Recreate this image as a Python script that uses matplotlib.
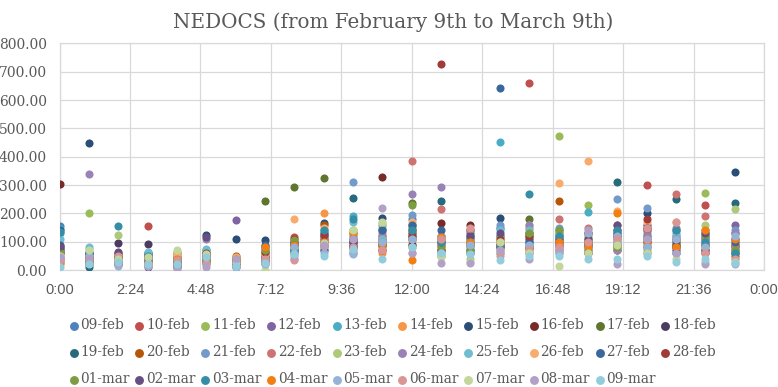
import matplotlib
matplotlib.use("Agg")
import matplotlib.pyplot as plt
import matplotlib.ticker as mticker
import numpy as np

# ── Data (NEDOCS per hour of day, one series per date) ───────────────────────
HOURS = list(range(24))

DATES = ["09-feb", "10-feb", "11-feb", "12-feb", "13-feb", "14-feb", "15-feb",
         "16-feb", "17-feb", "18-feb", "19-feb", "20-feb", "21-feb", "22-feb",
         "23-feb", "24-feb", "25-feb", "26-feb", "27-feb", "28-feb",
         "01-mar", "02-mar", "03-mar", "04-mar", "05-mar", "06-mar", "07-mar",
         "08-mar", "09-mar"]

FEB09 = [155, 40, 20, 45, 30, 60, 25, 60, 70, 140, 120, 100, 180, 90, 110, 100, 75, 80, 95, 130, 110, 60, 120, 90]
FEB10 = [60, 30, 40, 155, 35, 40, 20, 50, 115, 90, 80, 120, 150, 70, 90, 80, 660, 100, 80, 120, 300, 90, 230, 70]
FEB11 = [50, 203, 25, 30, 45, 20, 15, 30, 60, 100, 140, 150, 110, 50, 60, 60, 70, 473, 228, 90, 70, 110, 272, 100]
FEB12 = [70, 20, 60, 50, 10, 30, 175, 40, 90, 80, 60, 90, 130, 100, 70, 120, 100, 120, 60, 80, 100, 120, 140, 160]
FEB13 = [145, 60, 30, 20, 60, 50, 35, 20, 80, 130, 190, 70, 90, 60, 80, 452, 130, 60, 205, 100, 130, 60, 80, 60]
FEB14 = [30, 25, 35, 40, 40, 25, 45, 70, 60, 200, 100, 60, 100, 80, 120, 110, 110, 90, 120, 140, 80, 100, 60, 110]
FEB15 = [75, 447, 50, 60, 25, 125, 110, 105, 90, 165, 90, 185, 120, 110, 140, 185, 90, 130, 100, 110, 200, 80, 90, 345]
FEB16 = [304, 35, 45, 30, 20, 45, 30, 40, 70, 110, 80, 328, 90, 165, 160, 80, 120, 110, 90, 70, 100, 90, 110, 80]
FEB17 = [60, 50, 30, 60, 30, 35, 20, 242, 292, 325, 110, 90, 235, 90, 70, 120, 180, 140, 110, 90, 60, 140, 130, 50]
FEB18 = [80, 55, 95, 93, 40, 60, 40, 45, 100, 120, 100, 110, 140, 70, 100, 90, 80, 70, 130, 120, 160, 70, 100, 130]
FEB19 = [140, 10, 40, 55, 50, 70, 30, 60, 75, 130, 255, 140, 160, 245, 130, 150, 110, 120, 90, 312, 120, 250, 70, 235]
FEB20 = [45, 40, 55, 20, 30, 50, 50, 85, 85, 160, 100, 100, 130, 120, 110, 90, 130, 243, 100, 90, 140, 90, 90, 90]
FEB21 = [130, 35, 30, 40, 20, 40, 25, 75, 70, 120, 310, 160, 195, 100, 60, 160, 100, 150, 90, 250, 220, 130, 120, 140]
FEB22 = [35, 45, 20, 30, 60, 30, 40, 35, 40, 110, 70, 120, 385, 215, 140, 70, 150, 180, 150, 160, 140, 270, 190, 90]
FEB23 = [55, 75, 125, 40, 65, 65, 15, 60, 80, 90, 140, 165, 150, 50, 40, 120, 160, 130, 120, 80, 90, 100, 160, 215]
FEB24 = [40, 338, 50, 60, 15, 110, 20, 50, 95, 70, 95, 130, 270, 292, 60, 90, 160, 100, 80, 70, 120, 150, 110, 130]
FEB25 = [110, 80, 35, 65, 45, 75, 15, 40, 60, 100, 170, 110, 80, 120, 110, 140, 140, 120, 70, 100, 90, 120, 100, 70]
FEB26 = [20, 50, 40, 25, 55, 30, 45, 55, 180, 150, 130, 100, 170, 90, 100, 60, 90, 308, 385, 210, 170, 170, 80, 40]
FEB27 = [90, 20, 20, 35, 35, 55, 35, 90, 100, 70, 110, 140, 160, 140, 120, 643, 100, 110, 130, 130, 150, 80, 60, 100]
FEB28 = [65, 45, 45, 45, 25, 60, 25, 65, 110, 125, 85, 70, 120, 728, 90, 110, 120, 100, 60, 140, 180, 110, 70, 60]
MAR01 = [65, 30, 60, 20, 10, 35, 40, 70, 105, 90, 130, 80, 230, 80, 70, 100, 130, 140, 100, 80, 110, 90, 120, 70]
MAR02 = [85, 60, 65, 10, 20, 115, 10, 30, 90, 100, 100, 90, 110, 100, 120, 130, 60, 90, 110, 160, 150, 100, 130, 110]
MAR03 = [135, 65, 155, 50, 30, 30, 30, 80, 65, 140, 180, 100, 140, 100, 100, 90, 268, 120, 70, 140, 80, 140, 100, 60]
MAR04 = [25, 40, 25, 25, 40, 45, 35, 80, 90, 100, 130, 90, 35, 115, 100, 100, 80, 100, 80, 200, 100, 80, 140, 110]
MAR05 = [50, 50, 15, 15, 25, 20, 10, 25, 80, 60, 55, 100, 110, 60, 90, 60, 90, 70, 130, 120, 80, 110, 80, 120]
MAR06 = [35, 25, 50, 25, 35, 25, 20, 40, 35, 85, 80, 70, 60, 110, 150, 50, 70, 80, 100, 110, 150, 170, 60, 40]
MAR07 = [50, 70, 40, 45, 70, 55, 30, 0, 55, 95, 140, 170, 80, 45, 30, 100, 60, 15, 60, 90, 60, 40, 30, 30]
MAR08 = [45, 40, 20, 15, 5, 10, 40, 20, 50, 90, 110, 218, 60, 25, 25, 70, 40, 60, 140, 20, 110, 60, 20, 20]
MAR09 = [10, 20, 30, 20, 20, 45, 15, 25, 55, 50, 75, 40, 80, 60, 55, 35, 50, 50, 40, 40, 50, 30, 40, 25]

SERIES = [FEB09, FEB10, FEB11, FEB12, FEB13, FEB14, FEB15, FEB16, FEB17, FEB18,
          FEB19, FEB20, FEB21, FEB22, FEB23, FEB24, FEB25, FEB26, FEB27, FEB28,
          MAR01, MAR02, MAR03, MAR04, MAR05, MAR06, MAR07, MAR08, MAR09]

# ── Style (Excel 2010-like palette) ───────────────────────────────────────────
COLORS = ["#4F81BD", "#C0504D", "#9BBB59", "#8064A2", "#4BACC6", "#F79646",
          "#2C4D75", "#772C2A", "#5F7530", "#4D3B62", "#276A7C", "#B65708",
          "#729ACA", "#CD7371", "#AFC97A", "#9983B5", "#6FBDD1", "#F9AB6B",
          "#3A679C", "#9F3B38", "#7E9C40", "#664F82", "#358EA6", "#F47E0F",
          "#95B3D7", "#D99694", "#C3D69B", "#B2A1C7", "#93CDDD"]
TEXT = "#595959"
GRID = "#D9D9D9"
SERIF = "DejaVu Serif"

fig = plt.figure(figsize=(7.78, 3.87), dpi=100, facecolor="white")
ax = fig.add_axes([0.0765, 0.3023, 0.9055, 0.5853])

for vals, name, clr in zip(SERIES, DATES, COLORS):
    ax.scatter(HOURS, vals, s=34, color=clr, label=name, linewidths=0, zorder=3)

ax.set_xlim(0, 24)
ax.set_ylim(0, 800)
ax.xaxis.set_major_locator(mticker.MultipleLocator(2.4))
ax.yaxis.set_major_locator(mticker.MultipleLocator(100))


def hhmm(x, pos):
    mins = int(round(x * 60)) % (24 * 60)
    return f"{mins // 60}:{mins % 60:02d}"


ax.xaxis.set_major_formatter(mticker.FuncFormatter(hhmm))
ax.yaxis.set_major_formatter(mticker.FuncFormatter(lambda v, p: f"{v:.2f}"))

ax.tick_params(axis="both", length=0, colors=TEXT)
ax.tick_params(axis="x", pad=9, labelsize=10.5)
ax.tick_params(axis="y", pad=9, labelsize=10)
for lbl in ax.get_xticklabels():
    lbl.set_family("Liberation Sans")
for lbl in ax.get_yticklabels():
    lbl.set_family(SERIF)

ax.grid(True, color=GRID, linewidth=0.9, zorder=0)
ax.set_axisbelow(True)
for side in ["top", "right", "left", "bottom"]:
    ax.spines[side].set_color(GRID)
    ax.spines[side].set_linewidth(0.9)

fig.text(0.505, 0.942, "NEDOCS (from February 9th to March 9th)", fontsize=14.3,
         color=TEXT, family=SERIF, ha="center", va="center")

# ── Legend: row-major order over 10 columns ──────────────────────────────────
handles, labels = ax.get_legend_handles_labels()
order = [i + 10 * r for i in range(10) for r in range(3) if i + 10 * r < len(handles)]
leg = fig.legend([handles[i] for i in order], [labels[i] for i in order],
                 loc="upper left", ncol=10,
                 frameon=False, handletextpad=0.0, columnspacing=0.2,
                 labelspacing=0.95, handlelength=1.0, borderaxespad=0,
                 markerscale=1.1,
                 prop={"family": SERIF, "size": 9.8}, labelcolor=TEXT)
leg.set_bbox_to_anchor((0.079, 1 - 313 / 387), transform=fig.transFigure)

fig.savefig("out.png", dpi=100, facecolor="white")
plt.close(fig)
